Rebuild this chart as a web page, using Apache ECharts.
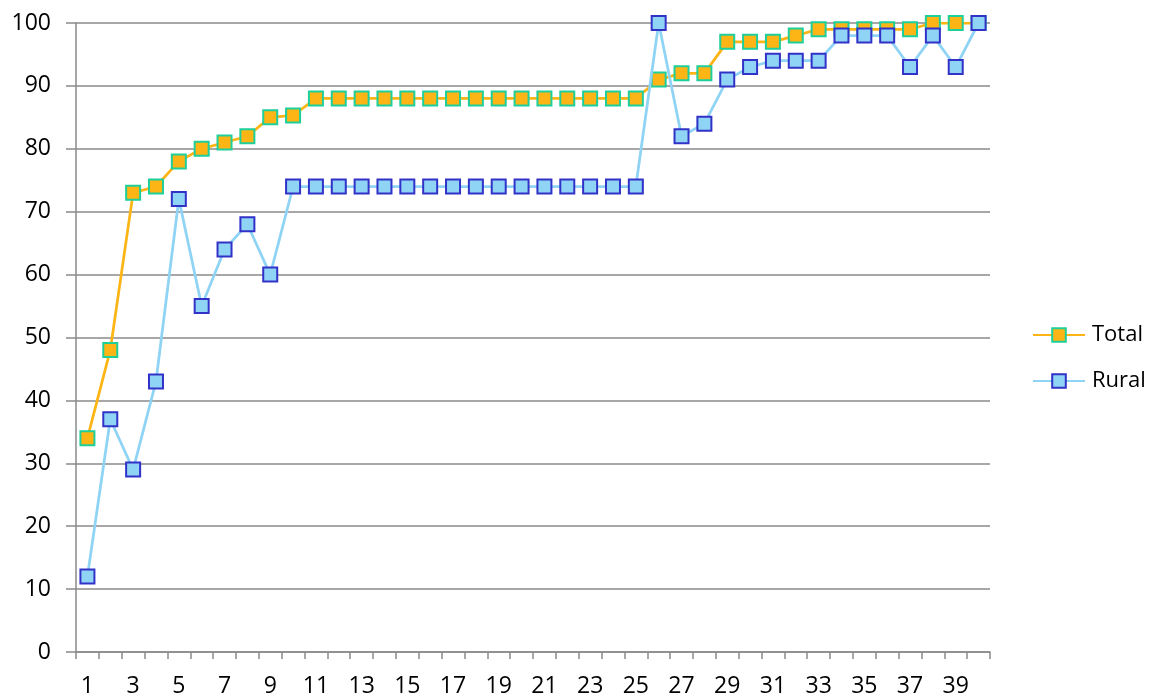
<!DOCTYPE html>
<html>
<head>
<meta charset="utf-8">
<script src="https://cdn.jsdelivr.net/npm/echarts@6/dist/echarts.min.js"></script>
<style>
  html, body { margin: 0; padding: 0; background: #fff; }
  #chart { width: 1149px; height: 698px; }
</style>
</head>
<body>
<div id="chart"></div>
<script>
// Categories 1..40
const categories = [
  '1','2','3','4','5','6','7','8','9','10',
  '11','12','13','14','15','16','17','18','19','20',
  '21','22','23','24','25','26','27','28','29','30',
  '31','32','33','34','35','36','37','38','39','40'
];

const totalValues = [
  34, 48, 73, 74, 78, 80, 81, 82, 85, 85.3,
  88, 88, 88, 88, 88, 88, 88, 88, 88, 88,
  88, 88, 88, 88, 88, 91, 92, 92, 97, 97,
  97, 98, 99, 99, 99, 99, 99, 100, 100, 100
];

const ruralValues = [
  12, 37, 29, 43, 72, 55, 64, 68, 60, 74,
  74, 74, 74, 74, 74, 74, 74, 74, 74, 74,
  74, 74, 74, 74, 74, 100, 82, 84, 91, 93,
  94, 94, 94, 98, 98, 98, 93, 98, 93, 100
];

const FONT = 'Open Sans';
const LABEL_SIZE = 23;
const chart = echarts.init(document.getElementById('chart'));

chart.setOption({
  animation: false,
  backgroundColor: '#ffffff',
  textStyle: { fontFamily: FONT, fontSize: LABEL_SIZE, color: '#000' },
  grid: { left: 76, right: 159, top: 23, bottom: 45, containLabel: false },
  legend: {
    orient: 'vertical',
    left: 1027,
    top: 319,
    padding: 5,
    itemWidth: 52,
    itemHeight: 17,
    itemGap: 24,
    textStyle: { fontFamily: FONT, fontSize: 22, color: '#000', padding: [0, 0, 0, 2] },
    data: ['Total', 'Rural']
  },
  xAxis: {
    type: 'category',
    data: categories,
    boundaryGap: true,
    axisLine: { lineStyle: { color: '#8a8a8a', width: 1.5 } },
    axisTick: { show: true, interval: 0, length: 7, lineStyle: { color: '#8a8a8a', width: 1.5 } },
    axisLabel: { interval: 1, margin: 23, fontFamily: FONT, fontSize: LABEL_SIZE, color: '#000' },
    splitLine: { show: false }
  },
  yAxis: {
    type: 'value',
    min: 0,
    max: 100,
    interval: 10,
    axisLine: { show: true, lineStyle: { color: '#8a8a8a', width: 1.5 } },
    axisTick: { show: true, length: 10, inside: false, lineStyle: { color: '#8a8a8a', width: 1.5 } },
    axisLabel: { margin: 25, fontFamily: FONT, fontSize: LABEL_SIZE, color: '#000' },
    splitLine: { show: true, lineStyle: { color: '#8a8a8a', width: 1.5 } }
  },
  series: [
    {
      name: 'Rural',
      type: 'line',
      data: ruralValues,
      symbol: 'rect',
      symbolSize: 14,
      z: 2,
      lineStyle: { color: '#8fd3f5', width: 2.75 },
      itemStyle: { color: '#8fd3f5', borderColor: '#3232c8', borderWidth: 2 }
    },
    {
      name: 'Total',
      type: 'line',
      data: totalValues,
      symbol: 'rect',
      symbolSize: 14,
      z: 1,
      lineStyle: { color: '#fdb515', width: 2.75 },
      itemStyle: { color: '#fdb515', borderColor: '#1ecf9c', borderWidth: 2 }
    }
  ]
});
</script>
</body>
</html>
